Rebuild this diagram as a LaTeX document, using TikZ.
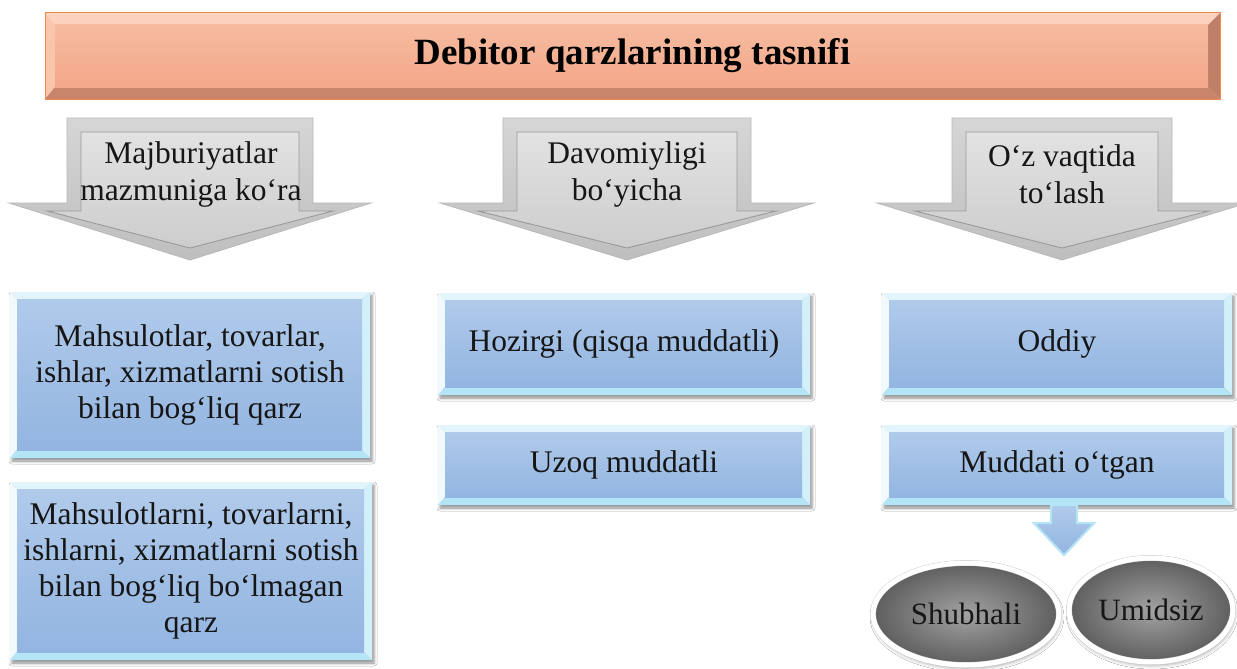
\documentclass[tikz,border=0pt]{standalone}
\usepackage{fontspec}
\setmainfont{Liberation Serif}
\usetikzlibrary{shapes.geometric,shadows.blur,calc}

\definecolor{txt}{HTML}{161616}
% title bevel colours
\definecolor{tT}{HTML}{FAD2BE}
\definecolor{tL}{HTML}{F9C6AC}
\definecolor{tB}{HTML}{C8856B}
\definecolor{tR}{HTML}{C07F67}
\definecolor{tF1}{HTML}{F6BBA0}
\definecolor{tF2}{HTML}{F4A789}
\definecolor{tE}{HTML}{EE8A50}
% blue box bevel colours
\definecolor{bT}{HTML}{E2F5FC}
\definecolor{bL}{HTML}{F0FAFD}
\definecolor{bB}{HTML}{B3E5F6}
\definecolor{bR}{HTML}{D2F0FA}
\definecolor{bF1}{HTML}{B0CAEA}
\definecolor{bF2}{HTML}{93B5E1}
% grey arrows
\definecolor{gO1}{HTML}{D6D6D6}
\definecolor{gO2}{HTML}{BEBEBE}
\definecolor{gI1}{HTML}{E2E2E2}
\definecolor{gI2}{HTML}{CDCDCD}
\definecolor{gE}{HTML}{B8B8B8}
\definecolor{gIE}{HTML}{9A9A9A}
% ellipses
\definecolor{eIn}{HTML}{A2A2A2}
\definecolor{eOut}{HTML}{5E5E5E}
\definecolor{eE}{HTML}{C8C8C8}

\newcommand\bevelfill[5]{%
  \path (path picture bounding box.north west) coordinate (o1)
        (path picture bounding box.north east) coordinate (o2)
        (path picture bounding box.south east) coordinate (o3)
        (path picture bounding box.south west) coordinate (o4);
  \path ([xshift=#2,yshift=-#3]o1) coordinate (i1)
        ([xshift=-#4,yshift=-#3]o2) coordinate (i2)
        ([xshift=-#4,yshift=#5]o3) coordinate (i3)
        ([xshift=#2,yshift=#5]o4) coordinate (i4);
  \fill[#1T] (o1)--(o2)--(i2)--(i1)--cycle;
  \fill[#1L] (o1)--(i1)--(i4)--(o4)--cycle;
  \fill[#1B] (o4)--(i4)--(i3)--(o3)--cycle;
  \fill[#1R] (o2)--(o3)--(i3)--(i2)--cycle;
  \shade[top color=#1F1,bottom color=#1F2] (i1) rectangle (i3);
}

\newcommand\bigarrow[3]{% centre x, shaft half width, head half width
  \shade[top color=gO1,bottom color=gO2,draw=gE,line width=0.8pt]
    (#1-#2,118) -- (#1+#2,118) -- (#1+#2,203) -- (#1+#3,203) -- (#1,260)
    -- (#1-#3,203) -- (#1-#2,203) -- cycle;
  \shade[top color=gI1,bottom color=gI2,draw=gIE,line width=0.9pt]
    (#1-#2+14,132) -- (#1+#2-14,132) -- (#1+#2-14,211) -- (#1+#3-38,211)
    -- (#1,248) -- (#1-#3+38,211) -- (#1-#2+14,211) -- cycle;
}

\tikzset{
  titlebox/.style={rectangle, inner sep=0pt, draw=tE, line width=1pt,
    minimum width=1175pt, minimum height=86pt,
    path picture={\bevelfill{t}{10pt}{12pt}{12pt}{12pt}},
    font=\fontsize{37}{44}\selectfont\bfseries, text=black},
  bluebox/.style={rectangle, inner sep=0pt, align=center,
    path picture={\bevelfill{b}{7pt}{7pt}{8pt}{8pt}},
    blur shadow={shadow xshift=2pt, shadow yshift=-3pt, shadow blur radius=3pt, shadow opacity=45},
    font=\fontsize{31.5}{36}\selectfont, text=txt},
  arrowtext/.style={inner sep=0pt, align=center,
    font=\fontsize{31.5}{37}\selectfont, text=txt},
  oval/.style={ellipse, inner sep=0pt, draw=eE, double=white, double distance=5pt,
    shading=radial, inner color=eIn, outer color=eOut,
    blur shadow={shadow xshift=1pt, shadow yshift=-3pt, shadow blur radius=4pt, shadow opacity=40},
    font=\fontsize{31}{36}\selectfont, text=txt},
  smallarrow/.style={top color=bF1, bottom color=bF2, draw=bB, line width=2pt, line join=miter}
}

\begin{document}
\begin{tikzpicture}[x=1pt,y=-1pt]
\useasboundingbox (0,0) rectangle (1237,669);
\fill[white] (0,0) rectangle (1237,669);

% title
\node[titlebox] (title) at (632.5,56) {Debitor qarzlarining tasnifi};

% grey arrows
\bigarrow{190}{123}{181}
\bigarrow{627}{124}{187}
\bigarrow{1062}{110}{185}
\node[arrowtext] (a1) at (191,174) {Majburiyatlar\\mazmuniga ko‘ra};
\node[arrowtext] (a2) at (627,174) {Davomiyligi\\bo‘yicha};
\node[arrowtext] (a3) at (1062,174) {O‘z vaqtida\\to‘lash};

% blue boxes
\node[bluebox, minimum width=360pt, minimum height=166pt] (l1) at (190,375)
  {Mahsulotlar, tovarlar,\\ishlar, xizmatlarni sotish\\bilan bog‘liq qarz};
\node[bluebox, minimum width=362pt, minimum height=178pt] (l2) at (191,571)
  {Mahsulotlarni, tovarlarni,\\ishlarni, xizmatlarni sotish\\bilan bog‘liq bo‘lmagan\\qarz};
\node[bluebox, minimum width=372pt, minimum height=102pt] (m1) at (624,344)
  {Hozirgi (qisqa muddatli)};
\node[bluebox, minimum width=372pt, minimum height=80pt] (m2) at (624,465)
  {Uzoq muddatli};
\node[bluebox, minimum width=350pt, minimum height=102pt] (r1) at (1057,344)
  {Oddiy};
\node[bluebox, minimum width=350pt, minimum height=80pt] (r2) at (1057,465)
  {Muddati o‘tgan};

% small arrow
\coordinate (sa) at ([xshift=-6pt]r2.south);
\shade[smallarrow] (sa) -- ++(0,18) -- ++(-17,0) -- ++(30,32) -- ++(30,-32)
  -- ++(-17,0) -- ++(0,-18) -- cycle;

% ovals
\node[oval, minimum width=186pt, minimum height=102pt] (e1) at (966,614) {Shubhali};
\node[oval, minimum width=164pt, minimum height=104pt] (e2) at (1151,610) {Umidsiz};
\end{tikzpicture}
\end{document}
